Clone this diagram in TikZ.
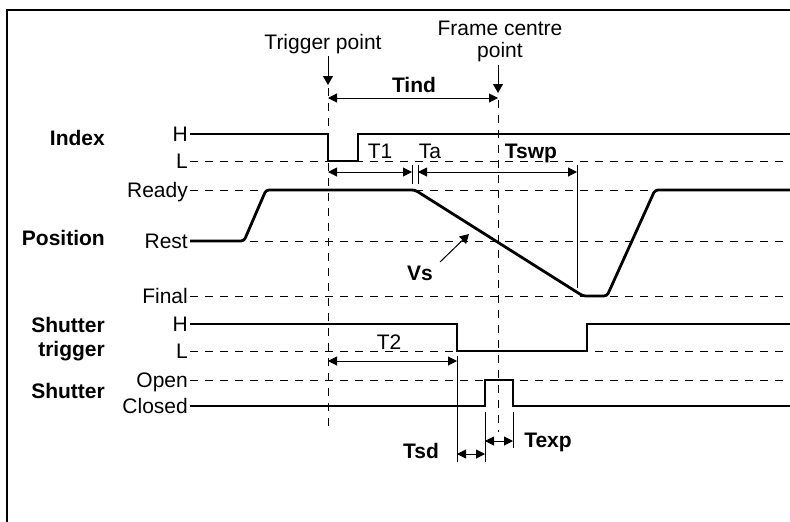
\documentclass[tikz,border=0pt]{standalone}
\usepackage{fontspec}
\setmainfont{Liberation Sans}
\usetikzlibrary{arrows.meta,positioning}

\begin{document}
\begin{tikzpicture}[
  x=1pt, y=-1pt,
  font=\fontsize{21}{22}\selectfont,
  lvl/.style={anchor=base east, inner sep=0pt},
  grp/.style={anchor=base east, inner sep=0pt, align=right,
              font=\fontsize{21}{24}\selectfont\bfseries},
  tlab/.style={anchor=base, inner sep=0pt},
  blab/.style={tlab, font=\fontsize{21}{22}\selectfont\bfseries},
  guide/.style={dash pattern=on 8pt off 7pt, line width=1pt},
  wave/.style={line width=1.8pt},
  posline/.style={line width=2.8pt, rounded corners=3pt},
  tick/.style={line width=1pt},
  dim/.style={{Triangle[length=9pt,width=9pt]}-{Triangle[length=9pt,width=9pt]}, line width=1pt},
  pointer/.style={-{Triangle[length=9pt,width=10pt]}, line width=1pt}
]
  \useasboundingbox (0,0) rectangle (790,522);
  \draw[line width=1.4pt] (790,10) -- (7,10) -- (7,522);

  % key instants
  \coordinate (trig) at (328,0);
  \coordinate (ctr) at (498,0);
  \coordinate (t1end) at (412,0);
  \coordinate (taend) at (418,0);
  \coordinate (swpend) at (577,0);
  \coordinate (stdown) at (457,0);
  \coordinate (shopen) at (485,0);
  \coordinate (shclose) at (513,0);

  % group labels
  \node[grp] (index) at (105,145) {Index};
  \node[grp] (position) at (105,245) {Position};
  \node[grp, anchor=north east] (strig) at (105,317) {Shutter\\trigger};
  \node[grp] (shutter) at (105,398) {Shutter};

  % level labels
  \node[lvl] (idxH) at (188,141) {H};
  \node[lvl] (idxL) at (188,168) {L};
  \node[lvl] (ready) at (188,197) {Ready};
  \node[lvl] (rest) at (188,248) {Rest};
  \node[lvl] (final) at (188,303) {Final};
  \node[lvl] (stH) at (188,331) {H};
  \node[lvl] (stL) at (188,358) {L};
  \node[lvl] (open) at (188,387) {Open};
  \node[lvl] (closed) at (188,413) {Closed};

  % dashed levels
  \draw[guide] (190,161) -- (790,161);
  \draw[guide] (190,190) -- (790,190);
  \draw[guide] (190,241) -- (790,241);
  \draw[guide] (190,296) -- (790,296);
  \draw[guide] (190,351) -- (790,351);
  \draw[guide] (190,380) -- (790,380);

  % reference instants
  \draw[guide] (trig |- 0,88) -- (trig |- 0,430);
  \draw[guide] (ctr |- 0,100) -- (ctr |- 0,432);
  \node[tlab] (trigtxt) at (323,49) {Trigger point};
  \node[anchor=north, align=center, inner sep=0pt] (ctrtxt) at (500,21) {Frame centre\\point};
  \draw[pointer] (trig |- 0,56) -- (trig |- 0,85);
  \draw[pointer] (ctr |- 0,65) -- (ctr |- 0,93);

  % signals
  \draw[wave] (190,134) -- (328,134) -- (328,161) -- (358,161) -- (358,134) -- (790,134);
  \draw[posline] (190,241) -- (244,241) -- (266,190) -- (415,190) -- (583,296)
    -- (607,296) -- (655,190) -- (790,190);
  \draw[wave] (190,324) -- (457,324) -- (457,351) -- (587,351) -- (587,324) -- (790,324);
  \draw[wave] (190,406) -- (485,406) -- (485,380) -- (513,380) -- (513,406) -- (790,406);

  % extension lines
  \draw[tick] (t1end |- 0,165) -- (t1end |- 0,184);
  \draw[tick] (taend |- 0,165) -- (taend |- 0,184);
  \draw[tick] (swpend |- 0,165) -- (swpend |- 0,288);
  \draw[tick] (stdown |- 0,356) -- (stdown |- 0,462);
  \draw[tick] (shopen |- 0,412) -- (shopen |- 0,462);
  \draw[tick] (shclose |- 0,412) -- (shclose |- 0,448);

  % intervals
  \draw[dim] (trig |- 0,98) -- (ctr |- 0,98);
  \draw[dim] (trig |- 0,172) -- (t1end |- 0,172);
  \draw[dim] (taend |- 0,172) -- (swpend |- 0,172);
  \draw[dim] (trig |- 0,361) -- (stdown |- 0,361);
  \draw[dim] (stdown |- 0,454) -- (shopen |- 0,454);
  \draw[dim] (shopen |- 0,441) -- (shclose |- 0,441);

  \node[blab] (tind) at (414,92) {Tind};
  \node[tlab] (t1) at (380,158) {T1};
  \node[tlab] (ta) at (430,158) {Ta};
  \node[blab] (tswp) at (531,158) {Tswp};
  \node[tlab] (t2) at (389,349) {T2};
  \node[blab] (tsd) at (421,458) {Tsd};
  \node[blab] (texp) at (548,447) {Texp};

  % sweep speed
  \node[blab] (vs) at (420,280) {Vs};
  \draw[pointer] (440,262) -- (469,234);
\end{tikzpicture}
\end{document}
